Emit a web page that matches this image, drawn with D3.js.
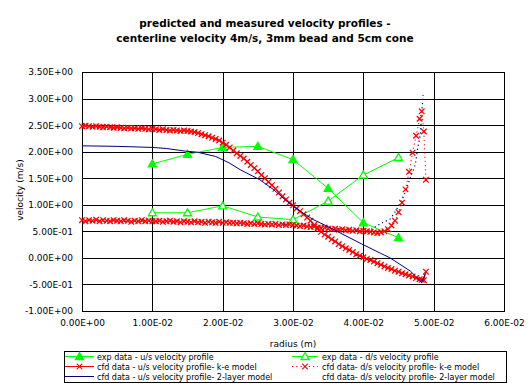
<!DOCTYPE html>
<html><head><meta charset="utf-8">
<script src="https://cdn.jsdelivr.net/npm/d3@7"></script>
<style>
body{margin:0;background:#fff;}
svg{display:block;}
text{font-family:"DejaVu Sans",sans-serif;fill:#000;}
</style></head>
<body><svg id="chart" width="530" height="387"></svg>
<script>
// ---------- data ----------
const titleLines = ["predicted and measured velocity profiles -", "centerline velocity  4m/s, 3mm bead and 5cm cone"];
const xTicks = [0, 0.01, 0.02, 0.03, 0.04, 0.05, 0.06];
const yTicks = [-1, -0.5, 0, 0.5, 1, 1.5, 2, 2.5, 3, 3.5];

const expRadius = [0.01, 0.015, 0.02, 0.025, 0.03, 0.035, 0.04, 0.045];
const expUS = [1.77, 1.95, 2.08, 2.10, 1.85, 1.31, 0.66, 0.38];
const expDS = [0.85, 0.85, 0.98, 0.77, 0.72, 1.07, 1.56, 1.89];

const keRadius = [0,0.0005,0.001,0.0015,0.002,0.0025,0.003,0.0035,0.004,0.0045,0.005,0.0055,0.006,0.0065,0.007,0.0075,0.008,0.0085,0.009,0.0095,0.01,
  0.0105,0.011,0.0115,0.012,0.0125,0.013,0.0135,0.014,0.0145,0.015,0.0155,0.016,0.0165,0.017,0.0175,0.018,0.0185,0.019,0.0195,0.02,
  0.0205,0.021,0.0215,0.022,0.0225,0.023,0.0235,0.024,0.0245,0.025,0.0255,0.026,0.0265,0.027,0.0275,0.028,0.0285,0.029,0.0295,0.03,
  0.0305,0.031,0.0315,0.032,0.0325,0.033,0.0335,0.034,0.0345,0.035,0.0355,0.036,0.0365,0.037,0.0375,0.038,0.0385,0.039,0.0395,0.04,
  0.0405,0.041,0.0415,0.042,0.0425,0.043,0.0435,0.044,0.0445,0.045,0.0455,0.046,0.0465,0.047,0.0475,0.048,
  0.0483,0.0486,0.0489];
const keUS = [2.48,2.49,2.48,2.47,2.48,2.47,2.46,2.47,2.46,2.45,2.46,2.45,2.44,2.45,2.44,2.44,2.43,2.44,2.43,2.42,2.43,
  2.42,2.41,2.42,2.41,2.40,2.41,2.40,2.39,2.40,2.39,2.38,2.37,2.35,2.33,2.31,2.29,2.26,2.24,2.21,2.17,
  2.13,2.08,2.02,1.97,1.92,1.87,1.81,1.75,1.69,1.63,1.56,1.50,1.43,1.37,1.30,1.23,1.16,1.10,1.04,0.99,
  0.93,0.88,0.82,0.76,0.70,0.62,0.55,0.49,0.44,0.40,0.35,0.31,0.26,0.22,0.18,0.15,0.11,0.07,0.04,0.01,
  -0.02,-0.04,-0.07,-0.10,-0.13,-0.16,-0.19,-0.21,-0.24,-0.26,-0.29,-0.31,-0.33,-0.35,-0.38,-0.40,
  -0.41,-0.42,-0.26];
const keDS = [0.71,0.69,0.71,0.70,0.72,0.69,0.71,0.70,0.69,0.71,0.70,0.69,0.71,0.70,0.68,0.70,0.69,0.71,0.69,0.70,0.69,
  0.69,0.70,0.68,0.69,0.70,0.68,0.69,0.67,0.69,0.68,0.67,0.69,0.67,0.68,0.66,0.68,0.67,0.66,0.68,0.66,
  0.67,0.66,0.66,0.65,0.66,0.65,0.64,0.65,0.64,0.65,0.64,0.63,0.64,0.63,0.64,0.62,0.63,0.62,0.63,0.62,
  0.61,0.60,0.61,0.59,0.58,0.59,0.57,0.56,0.57,0.55,0.54,0.55,0.53,0.54,0.52,0.53,0.51,0.52,0.50,0.51,
  0.50,0.49,0.48,0.47,0.48,0.50,0.54,0.61,0.70,0.86,1.04,1.29,1.62,1.98,2.30,2.62,
  2.76,2.38,1.47];

const tlRadiusUS = [0,0.005,0.010,0.012,0.0147,0.0164,0.019,0.0209,0.0225,0.0253,0.0272,0.0291,0.031,0.0329,0.0348,0.0367,0.0395,0.0424,0.0438,0.0467,0.0483,0.0488];
const tlUS = [2.11,2.10,2.08,2.06,2.01,1.99,1.91,1.79,1.66,1.47,1.29,1.07,0.88,0.72,0.60,0.47,0.28,0.09,0.00,-0.25,-0.46,-0.30];
const tlRadiusDS = [0,0.010,0.020,0.030,0.035,0.038,0.040,0.041,0.0424,0.0438,0.0445,0.0452,0.0460,0.0466,0.0474,0.0477,0.0481,0.0483,0.0485];
const tlDS = [0.70,0.69,0.67,0.62,0.57,0.53,0.50,0.53,0.64,0.73,0.86,1.02,1.25,1.48,1.76,2.04,2.32,2.73,3.07];

const legendLabels = [
  "exp data - u/s velocity profile",
  "cfd data - u/s velocity profile- k-e model",
  "cfd data - u/s velocity profile- 2-layer model",
  "exp data - d/s velocity profile",
  "cfd data- d/s velocity profile- k-e model",
  "cfd data- d/s velocity profile- 2-layer model"
];

// ---------- styles ----------
const GREEN = "#00ff00", RED = "#ff0000", NAVY = "#000080";
const svg = d3.select("#chart");
const L = 82, R = 504, T = 72, B = 311;
const x = d3.scaleLinear().domain([0, 0.06]).range([L, R]);
const y = d3.scaleLinear().domain([-1, 3.5]).range([B, T]);

const fmt = v => {
  const s = v.toExponential(2).toUpperCase();
  return s.replace(/E([+-])(\d+)$/, (m, sg, d) => "E" + sg + (d.length < 2 ? "0" + d : d));
};

// title
svg.append("g").selectAll("text").data(titleLines).join("text")
  .attr("x", 265).attr("y", (d, i) => 27 + i * 15)
  .attr("text-anchor", "middle").style("font-size", "10.5px").style("font-weight", "bold")
  .text(d => d);

// axes with gridlines
const gx = svg.append("g").attr("transform", `translate(0,${B})`)
  .call(d3.axisBottom(x).tickValues(xTicks).tickSize(-(B - T)).tickPadding(9).tickFormat(fmt));
const gy = svg.append("g").attr("transform", `translate(${L},0)`)
  .call(d3.axisLeft(y).tickValues(yTicks).tickSize(-(R - L)).tickPadding(9).tickFormat(fmt));
[gx, gy].forEach(g => {
  g.select(".domain").remove();
  g.selectAll(".tick line").attr("stroke", "#000").attr("stroke-width", 1).attr("shape-rendering", "crispEdges");
  g.selectAll(".tick text").style("font-size", "9px").style("font-family", "DejaVu Sans");
});
svg.append("rect").attr("x", L).attr("y", T).attr("width", R - L).attr("height", B - T)
  .attr("fill", "none").attr("stroke", "#000").attr("shape-rendering", "crispEdges");

// axis titles
svg.append("text").attr("x", 293).attr("y", 347).attr("text-anchor", "middle").style("font-size", "9px").text("radius (m)");
svg.append("text").attr("transform", "translate(23,190) rotate(-90)").attr("text-anchor", "middle").style("font-size", "9px").text("velocity (m/s)");

const plot = svg.append("g");
const line = d3.line().x(d => x(d[0])).y(d => y(d[1]));
const zip = (a, b) => a.map((r, i) => [r, b[i]]);

const triPath = "M0,-4L4,3L-4,3Z";
const xPath = "M-2.8,-2.8L2.8,2.8M-2.8,2.8L2.8,-2.8";

// exp series
function expSeries(vals, filled) {
  const pts = zip(expRadius, vals);
  plot.append("path").attr("d", line(pts)).attr("fill", "none").attr("stroke", GREEN).attr("stroke-width", 1);
  plot.append("g").selectAll("path").data(pts).join("path")
    .attr("transform", d => `translate(${x(d[0])},${y(d[1])})`)
    .attr("d", triPath)
    .attr("fill", filled ? GREEN : "#fff").attr("stroke", GREEN).attr("stroke-width", 1.3);
}
expSeries(expUS, true);
expSeries(expDS, false);

// 2-layer d/s (dotted navy) underneath
plot.append("path").attr("d", line(zip(tlRadiusDS, tlDS))).attr("fill", "none")
  .attr("stroke", NAVY).attr("stroke-width", 1.2).attr("stroke-dasharray", "1.2,3");

// k-e series
function keSeries(vals, dashed) {
  const pts = zip(keRadius, vals);
  plot.append("path").attr("d", line(pts)).attr("fill", "none").attr("stroke", RED).attr("stroke-width", 1)
    .attr("stroke-dasharray", dashed ? "1.2,3" : null);
  plot.append("g").selectAll("path").data(pts).join("path")
    .attr("transform", d => `translate(${x(d[0])},${y(d[1])})`)
    .attr("d", xPath).attr("fill", "none").attr("stroke", RED).attr("stroke-width", 1.25);
}
keSeries(keUS, false);
keSeries(keDS, true);

// 2-layer u/s (solid navy)
plot.append("path").attr("d", line(zip(tlRadiusUS, tlUS))).attr("fill", "none")
  .attr("stroke", NAVY).attr("stroke-width", 1);

// legend
const lg = svg.append("g");
lg.append("rect").attr("x", 64.5).attr("y", 351.5).attr("width", 442).attr("height", 31)
  .attr("fill", "#fff").attr("stroke", "#000");
const legendItems = [
  {col: 0, row: 0, color: GREEN, dash: null, marker: "tri", fill: GREEN},
  {col: 0, row: 1, color: RED, dash: null, marker: "x"},
  {col: 0, row: 2, color: NAVY, dash: null, marker: null},
  {col: 1, row: 0, color: GREEN, dash: null, marker: "tri", fill: "#fff"},
  {col: 1, row: 1, color: RED, dash: "1.2,3", marker: "x"},
  {col: 1, row: 2, color: NAVY, dash: null, marker: null, hidden: true}
];
legendItems.forEach((it, i) => {
  const x0 = it.col === 0 ? 65 : 292, x1 = it.col === 0 ? 94 : 318;
  const cy = 356.5 + it.row * 10;
  if (!it.hidden) {
    lg.append("line").attr("x1", x0).attr("x2", x1).attr("y1", cy).attr("y2", cy)
      .attr("stroke", it.color).attr("stroke-width", 1).attr("stroke-dasharray", it.dash);
    const mx = (x0 + x1) / 2;
    if (it.marker === "tri") lg.append("path").attr("d", triPath).attr("transform", `translate(${mx},${cy})`)
      .attr("fill", it.fill).attr("stroke", it.color).attr("stroke-width", 1.3);
    if (it.marker === "x") lg.append("path").attr("d", xPath).attr("transform", `translate(${mx},${cy})`)
      .attr("fill", "none").attr("stroke", it.color).attr("stroke-width", 1.1);
  }
  lg.append("text").attr("x", it.col === 0 ? 97 : 322).attr("y", cy + 3)
    .style("font-size", "8px").text(legendLabels[i]);
});
</script></body></html>
